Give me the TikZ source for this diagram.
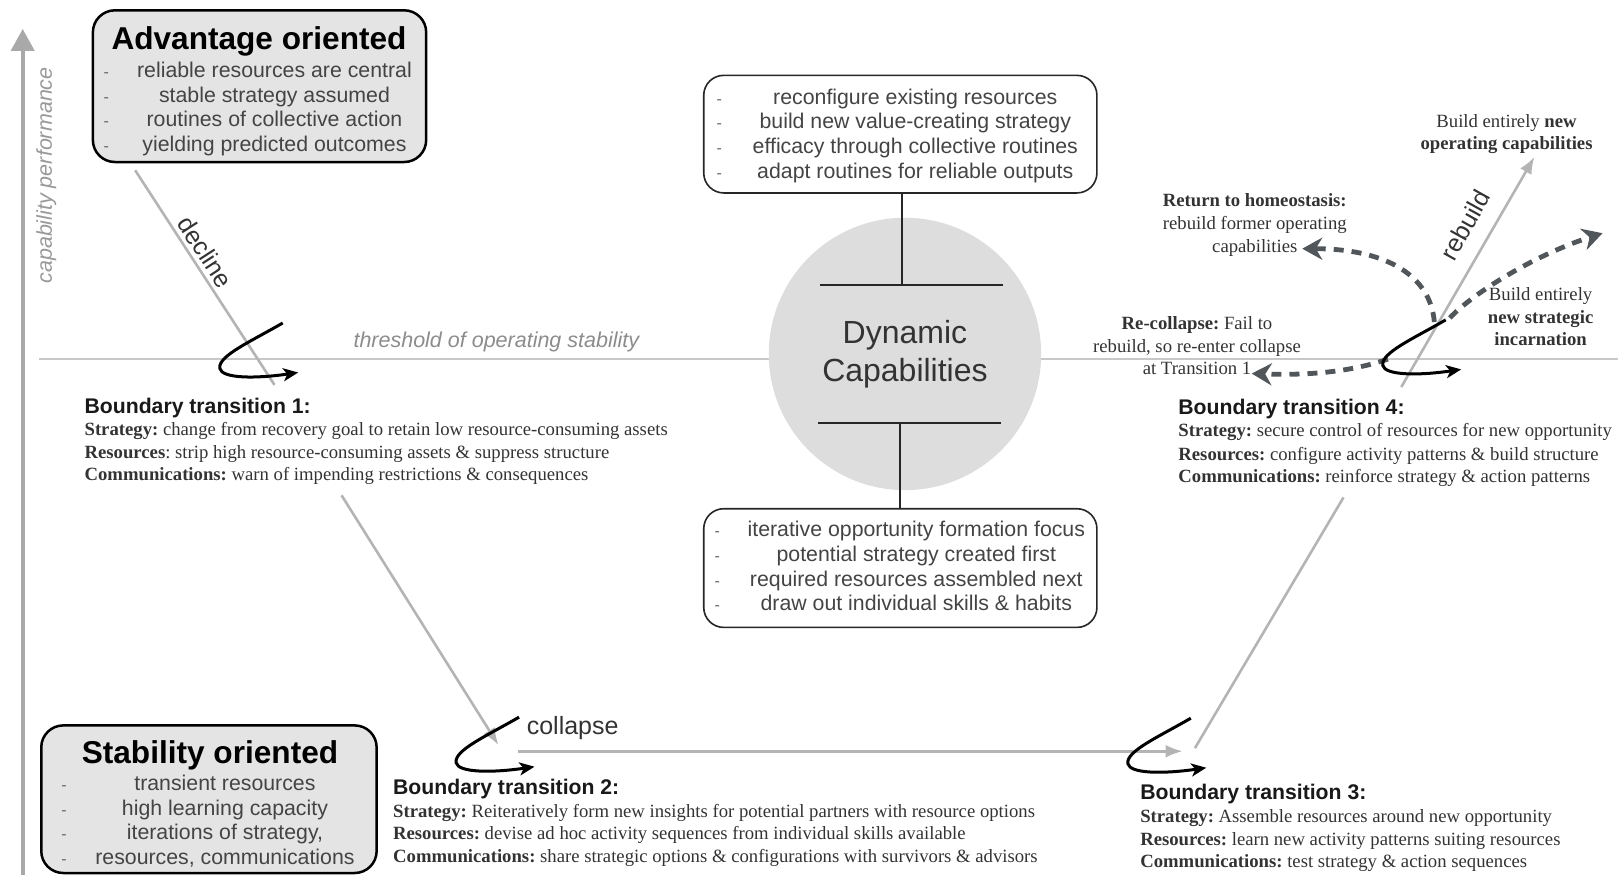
\documentclass[tikz,border=0pt]{standalone}
\usepackage{fontspec}
\setmainfont{Liberation Sans}
\newfontfamily\seriffam{Liberation Serif}
\usetikzlibrary{arrows.meta}
\frenchspacing
\definecolor{boxfill}{HTML}{E4E4E4}
\definecolor{circfill}{HTML}{DDDDDD}
\definecolor{axisgrey}{HTML}{A9A9A9}
\definecolor{linegrey}{HTML}{B4B4B4}
\definecolor{threshgrey}{HTML}{C8C8C8}
\definecolor{dashgrey}{HTML}{51565B}
\definecolor{boxtext}{HTML}{444444}
\definecolor{bodytext}{HTML}{333333}
\tikzset{
  every node/.style={inner sep=0pt, outer sep=0pt},
  gbox/.style={draw=black, line width=2.5pt, fill=boxfill, rounded corners=22pt},
  wbox/.style={draw=black!85, line width=1.6pt, fill=white, rounded corners=20pt},
  boxline/.style={anchor=base, text=boxtext, font=\fontsize{21.3}{25}\selectfont},
  boxdash/.style={anchor=base, text=boxtext!80, font=\fontsize{16}{20}\selectfont},
  boxtitle/.style={anchor=base, text=black, font=\fontsize{31.6}{36}\selectfont\bfseries},
  bthead/.style={anchor=base west, text=black!90, font=\fontsize{21.2}{25}\selectfont\bfseries},
  btline/.style={anchor=base west, text=bodytext, font=\fontsize{18.7}{22.7}\selectfont\seriffam},
  note/.style={align=center, text=bodytext, font=\fontsize{18.7}{22.7}\selectfont\seriffam},
  thinblack/.style={draw=black!85, line width=1.8pt},
  greyline/.style={draw=linegrey, line width=2.6pt},
  greyarrow/.style={greyline, -{Latex[length=17pt,width=13pt]}},
  curl/.style={draw=black, line width=3pt, -{Stealth[length=15pt,width=13pt,inset=4pt]}},
  dasharrow/.style={draw=dashgrey, line width=4.8pt, dash pattern=on 10pt off 8pt,
    -{Stealth[length=20pt,width=22pt]}},
  steplabel/.style={text=black!80, font=\fontsize{25}{30}\selectfont},
  pics/hook/.style={code={
    \draw[curl] (61,-42) .. controls (30,-24) and (-2,-10) .. (0,2)
                         .. controls (2,12) and (35,12) .. (76,6);}},
}
\begin{document}
\begin{tikzpicture}[x=1.0319pt,y=-1.0319pt]
\useasboundingbox (0,0) rectangle (1568,848);

% vertical performance axis
\coordinate (ax-b) at (22,848);
\coordinate (ax-t) at (22,28);
\draw[draw=axisgrey, line width=4pt, -{Triangle[length=22pt,width=23pt]}] (ax-b) -- (ax-t);
\node[rotate=90, text=black!40, font=\fontsize{21.5}{25}\selectfont\itshape] (axlabel) at (45,170) {capability performance};

% threshold of operating stability
\coordinate (th-l) at (38,348);
\coordinate (th-r) at (1568,348);
\draw[draw=threshgrey, line width=2.4pt] (th-l) -- (th-r);
\node[text=black!45, font=\fontsize{21.5}{25}\selectfont\itshape] (thlabel) at (481,331) {threshold of operating stability};

% central dynamic capabilities
\node[circle, fill=circfill, minimum size=272.4pt, align=center, text=black!80,
      font=\fontsize{32}{38}\selectfont] (dc) at (877,343) {Dynamic\\Capabilities};
\coordinate (dc-tl) at (795,276); \coordinate (dc-tr) at (972,276);
\coordinate (dc-bl) at (793,410); \coordinate (dc-br) at (970,410);
\coordinate (dc-top) at (874,276);
\coordinate (dc-bot) at (872,410);
\draw[thinblack] (dc-tl) -- (dc-tr);
\draw[thinblack] (dc-bl) -- (dc-br);

% top box
\node[wbox, minimum width=393.2pt, minimum height=117.6pt] (topbox) at (872.5,130) {};
\foreach \t [count=\i] in {reconfigure existing resources, build new value-creating strategy,
    efficacy through collective routines, adapt routines for reliable outputs} {
  \node[boxline] (top-\i) at (887,77+24*\i) {\t};
  \node[boxdash] (topd-\i) at (697,77+24*\i) {-};
}
\draw[thinblack] (topbox.south -| dc-top) -- (dc-top);

% bottom box
\node[wbox, minimum width=393.2pt, minimum height=118.7pt] (botbox) at (872.5,550.5) {};
\foreach \t [count=\i] in {iterative opportunity formation focus, potential strategy created first,
    required resources assembled next, draw out individual skills \& habits} {
  \node[boxline] (bot-\i) at (888,496+24*\i) {\t};
  \node[boxdash] (botd-\i) at (695,496+24*\i) {-};
}
\draw[thinblack] (dc-bot) -- (botbox.north -| dc-bot);

% advantage oriented
\node[gbox, minimum width=333.3pt, minimum height=151.7pt] (adv) at (251.5,83.5) {};
\node[boxtitle] (advtitle) at (251,48) {Advantage oriented};
\foreach \t [count=\i] in {reliable resources are central, stable strategy assumed,
    routines of collective action, yielding predicted outcomes} {
  \node[boxline] (adv-\i) at (266,51+24*\i) {\t};
  \node[boxdash] (advd-\i) at (103,51+24*\i) {-};
}

% stability oriented
\node[gbox, minimum width=335.4pt, minimum height=147.6pt] (stab) at (202.5,774.5) {};
\node[boxtitle] (stabtitle) at (203.5,740) {Stability oriented};
\foreach \t [count=\i] in {transient resources, high learning capacity,
    {iterations of strategy,}, {resources, communications}} {
  \node[boxline] (stab-\i) at (218,742+24*\i) {\t};
  \node[boxdash] (stabd-\i) at (62,742+24*\i) {-};
}

% trajectory: decline, collapse, rebuild
\coordinate (dec-a) at (131,165);
\coordinate (dec-b) at (266,373);
\draw[greyline] (dec-a) -- (dec-b);
\node[steplabel, rotate=-57] (declinelbl) at (199,244) {decline};

\coordinate (col-a) at (331,480);
\coordinate (col-b) at (483,722);
\draw[greyarrow] (col-a) -- (col-b);
\coordinate (hz-a) at (502,728);
\coordinate (hz-b) at (1146,728);
\draw[greyarrow] (hz-a) -- (hz-b);
\node[steplabel] (collbl) at (555,706) {collapse};

\coordinate (up-a) at (1158,725);
\coordinate (up-b) at (1302,482);
\draw[greyline] (up-a) -- (up-b);

\coordinate (rb-a) at (1358,375);
\coordinate (rb-b) at (1487,152);
\draw[greyarrow] (rb-a) -- (rb-b);
\node[steplabel, rotate=61] (rblbl) at (1420,218) {rebuild};

% outcomes after boundary transition 4
\coordinate (hs-a) at (1390,312);
\coordinate (hs-b) at (1262,241);
\draw[dasharrow] (hs-a) .. controls (1386,265) and (1340,241) .. (hs-b);
\coordinate (rc-a) at (1345,348);
\coordinate (rc-b) at (1213,362);
\draw[dasharrow] (rc-a) .. controls (1310,360) and (1270,364) .. (rc-b);
\coordinate (ns-a) at (1405,308);
\coordinate (ns-b) at (1553,226);
\draw[dasharrow] (ns-a) .. controls (1430,282) and (1490,246) .. (ns-b);

\node[note] (opcap) at (1460,130) {Build entirely \textbf{new}\\\textbf{operating capabilities}};
\node[note] (homeo) at (1216,218) {\textbf{Return to homeostasis:}\\rebuild former operating\\capabilities};
\node[note] (recol) at (1160,335) {\textbf{Re-collapse:} Fail to\\rebuild, so re-enter collapse\\at Transition 1};
\node[note] (newstrat) at (1493,307) {Build entirely\\\textbf{new strategic}\\\textbf{incarnation}};

% transition hooks
\pic (hook1) at (213,355) {hook};
\pic (hook2) at (442,737) {hook};
\pic (hook3) at (1093,738) {hook};
\pic (hook4) at (1340,352) {hook};

% boundary transitions
\node[bthead] (bt1) at (82,401) {Boundary transition 1:};
\node[btline] (bt1s) at (82,422) {\textbf{Strategy:} change from recovery goal to retain low resource-consuming assets};
\node[btline] (bt1r) at (82,444) {\textbf{Resources}: strip high resource-consuming assets \& suppress structure};
\node[btline] (bt1c) at (82,466) {\textbf{Communications:} warn of impending restrictions \& consequences};

\node[bthead] (bt2) at (381,770) {Boundary transition 2:};
\node[btline] (bt2s) at (381,792) {\textbf{Strategy:} Reiteratively form new insights for potential partners with resource options};
\node[btline] (bt2r) at (381,814) {\textbf{Resources:} devise ad hoc activity sequences from individual skills available};
\node[btline] (bt2c) at (381,836) {\textbf{Communications:} share strategic options \& configurations with survivors \& advisors};

\node[bthead] (bt3) at (1105,775) {Boundary transition 3:};
\node[btline] (bt3s) at (1105,797) {\textbf{Strategy:} Assemble resources around new opportunity};
\node[btline] (bt3r) at (1105,819) {\textbf{Resources:} learn new activity patterns suiting resources};
\node[btline] (bt3c) at (1105,841) {\textbf{Communications:} test strategy \& action sequences};

\node[bthead] (bt4) at (1142,402) {Boundary transition 4:};
\node[btline] (bt4s) at (1142,423) {\textbf{Strategy:} secure control of resources for new opportunity};
\node[btline] (bt4r) at (1142,446) {\textbf{Resources:} configure activity patterns \& build structure};
\node[btline] (bt4c) at (1142,468) {\textbf{Communications:} reinforce strategy \& action patterns};
\end{tikzpicture}
\end{document}
